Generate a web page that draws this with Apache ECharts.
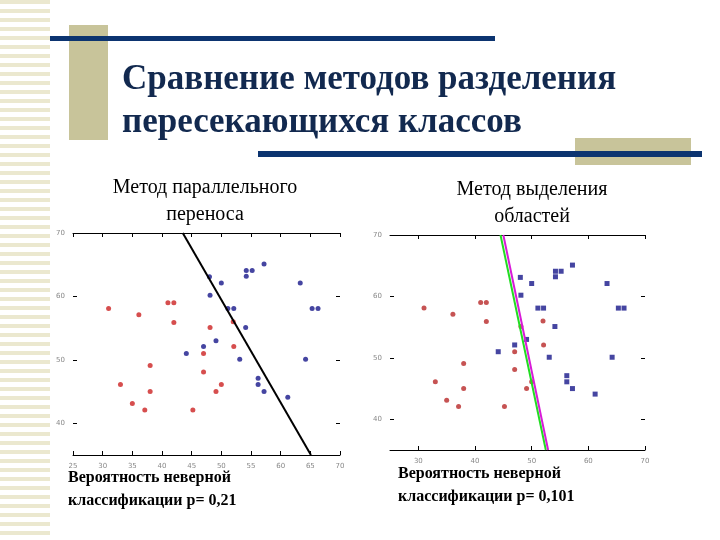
<!DOCTYPE html>
<html><head><meta charset="utf-8">
<script src="https://cdn.jsdelivr.net/npm/echarts@6/dist/echarts.min.js"></script>
<style>html,body{margin:0;padding:0;background:#fff}#c{width:720px;height:540px}</style>
</head><body><div id="c"></div>
<script>
var blueDots = [[48.0,63.1],[54.2,64.1],[54.2,63.2],[55.2,64.1],[57.2,65.1],[50.0,62.1],[48.1,60.2],
  [63.3,62.1],[51.1,58.1],[52.1,58.1],[65.3,58.1],[66.3,58.1],[54.1,55.1],[49.1,53.0],[47.0,52.1],
  [44.1,51.0],[53.1,50.1],[64.2,50.1],[56.2,47.1],[56.2,46.1],[57.2,45.0],[61.2,44.1]];
var redDots = [[31.0,58.1],[41.0,59.0],[42.0,59.0],[36.1,57.1],[42.0,55.9],[48.1,55.1],[52.0,56.0],
  [52.1,52.1],[47.0,51.0],[38.0,49.1],[47.0,48.1],[33.0,46.1],[38.0,45.0],[49.1,45.0],[50.0,46.1],
  [35.0,43.1],[37.1,42.1],[45.2,42.1]];
var lineParallel = [[43.5,70],[65.1,35]];
var lineMagenta = [[45.0,70],[52.9,35]];
var lineGreen = [[44.5,70],[52.5,35]];
var xTicksLeft = [25, 30, 35, 40, 45, 50, 55, 60, 65, 70];
var xTicksRight = [30, 40, 50, 60, 70];
var yTicks = [40, 50, 60, 70];

var chart = echarts.init(document.getElementById('c'));
var serif = 'Liberation Serif';

function xAx(gi, ticks, pos) {
  return {gridIndex: gi, type: 'value', min: 25, max: 70, position: pos,
    axisLine: {show: true, lineStyle: {color: '#000', width: 1}},
    axisTick: {show: true, inside: true, length: 4, customValues: ticks, lineStyle: {color: '#000'}},
    axisLabel: {show: pos === 'bottom', customValues: ticks, fontSize: 7, color: '#888', fontFamily: 'DejaVu Sans'},
    splitLine: {show: false}};
}
function yAx(gi, pos) {
  return {gridIndex: gi, type: 'value', min: 35, max: 70, position: pos,
    axisLine: {show: false},
    axisTick: {show: true, inside: true, length: 4, customValues: yTicks, lineStyle: {color: '#000'}},
    axisLabel: {show: pos === 'left', customValues: yTicks, fontSize: 7, color: '#888', fontFamily: 'DejaVu Sans'},
    splitLine: {show: false}};
}

function dots(data, color, xi, yi, sym) {
  return {type: 'scatter', xAxisIndex: xi, yAxisIndex: yi, data: data, symbol: sym || 'circle',
    symbolSize: 5, itemStyle: {color: color}, silent: true};
}
function seg(data, color, xi, yi, w) {
  return {type: 'line', xAxisIndex: xi, yAxisIndex: yi, data: data, symbol: 'none',
    lineStyle: {color: color, width: w}, silent: true};
}

var stripes = [];
for (var i = 0; i < 60; i++) {
  stripes.push({type: 'rect', shape: {x: 0, y: i * 9, width: 50, height: 4}, style: {fill: '#ebe8cf'}});
}

chart.setOption({
  animation: false,
  grid: [
    {left: 73, top: 233, width: 267, height: 222},
    {left: 390, top: 235, width: 255, height: 215}
  ],
  xAxis: [xAx(0, xTicksLeft, 'bottom'), xAx(0, xTicksLeft, 'top'), xAx(1, xTicksRight, 'bottom'), xAx(1, xTicksRight, 'top')],
  yAxis: [yAx(0, 'left'), yAx(0, 'right'), yAx(1, 'left'), yAx(1, 'right')],
  series: [
    dots(redDots, '#cc2222', 0, 0), dots(blueDots, '#16168a', 0, 0),
    seg(lineParallel, '#000', 0, 0, 2),
    dots(redDots, '#b82828', 2, 2), dots(blueDots, '#16168a', 2, 2, 'rect'),
    seg(lineGreen, '#22dd22', 2, 2, 2), seg(lineMagenta, '#d81ad8', 2, 2, 2)
  ],
  graphic: stripes.concat([
    {type: 'rect', shape: {x: 69, y: 25, width: 39, height: 115}, style: {fill: '#c8c49a'}},
    {type: 'rect', shape: {x: 575, y: 138, width: 116, height: 27}, style: {fill: '#c8c49a'}},
    {type: 'rect', shape: {x: 50, y: 36, width: 445, height: 5}, style: {fill: '#0c3470'}},
    {type: 'rect', shape: {x: 258, y: 151, width: 444, height: 6}, style: {fill: '#0c3470'}},
    {type: 'text', left: 122, top: 58, style: {text: 'Сравнение методов разделения\nпересекающихся классов',
      font: 'bold 35px "' + serif + '"', fill: '#12294f', lineHeight: 43}},
    {type: 'text', x: 205, y: 174, style: {text: 'Метод параллельного\nпереноса', textAlign: 'center',
      font: '20px "' + serif + '"', fill: '#000', lineHeight: 27}},
    {type: 'text', x: 532, y: 176, style: {text: 'Метод выделения\nобластей', textAlign: 'center',
      font: '20px "' + serif + '"', fill: '#000', lineHeight: 27}},
    {type: 'text', x: 68, y: 466, style: {text: 'Вероятность неверной\nклассификации p= 0,21',
      font: 'bold 16px "' + serif + '"', fill: '#000', lineHeight: 23}},
    {type: 'text', x: 398, y: 462, style: {text: 'Вероятность неверной\nклассификации p= 0,101',
      font: 'bold 16px "' + serif + '"', fill: '#000', lineHeight: 23}}
  ])
});
</script></body></html>
